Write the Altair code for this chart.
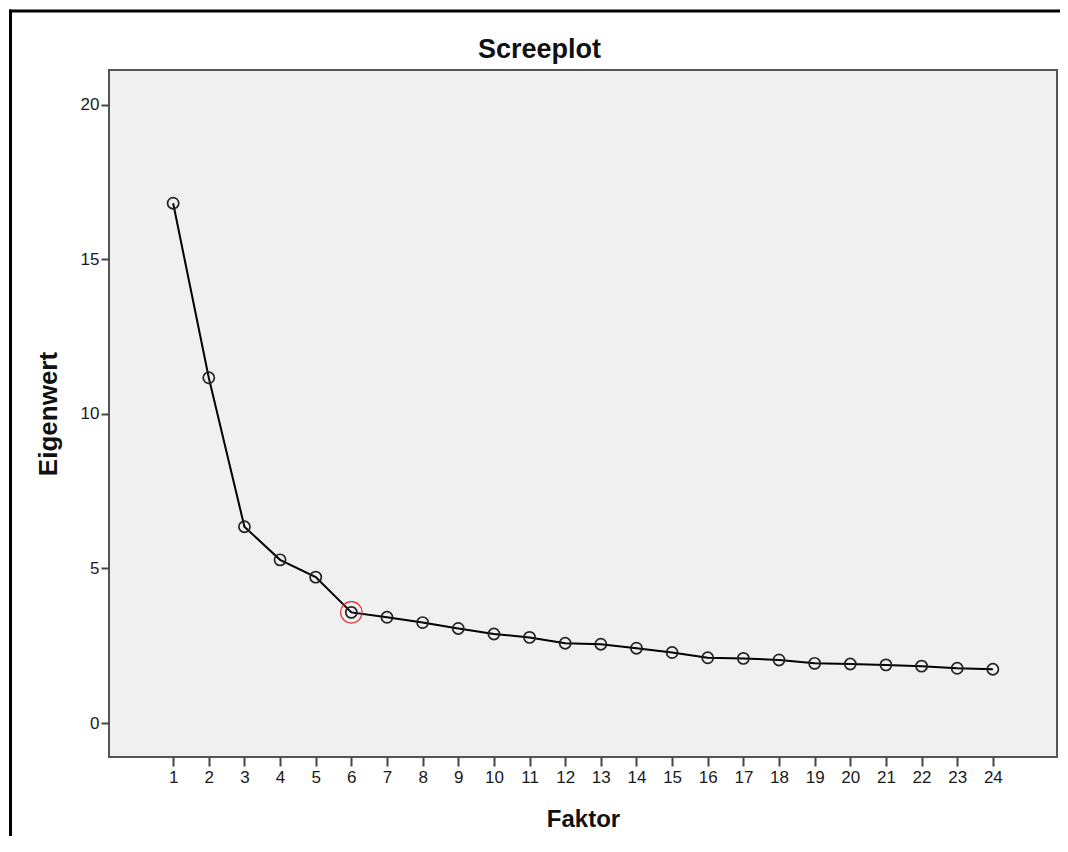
import altair as alt
import pandas as pd

factors = list(range(1, 25))
eigenvalues = [16.82, 11.17, 6.35, 5.28, 4.72, 3.58, 3.42, 3.25, 3.06, 2.88, 2.77, 2.58,
               2.55, 2.42, 2.28, 2.11, 2.09, 2.04, 1.93, 1.91, 1.88, 1.84, 1.77, 1.74]
y_ticks = [0, 5, 10, 15, 20]
highlight_factor = 6
chart_title = "Screeplot"

df = pd.DataFrame({"Faktor": factors, "Eigenwert": eigenvalues})
hl = df[df["Faktor"] == highlight_factor]

FONT = "Liberation Sans"

x = alt.X("Faktor:Q", title="Faktor",
          scale=alt.Scale(domain=[-0.8, 25.8], nice=False, zero=False),
          axis=alt.Axis(values=factors, format="d", labelFlush=False, labelOverlap=False,
                        titleFontSize=24))
y = alt.Y("Eigenwert:Q", title="Eigenwert",
          scale=alt.Scale(domain=[-1.1, 21.13], nice=False, zero=False),
          axis=alt.Axis(values=y_ticks, format="d", titleFontSize=26))

line = alt.Chart(df).mark_line(color="#000000", strokeWidth=2).encode(x=x, y=y)
pts = alt.Chart(df).mark_point(shape="circle", filled=False, size=125, stroke="#222222",
                               strokeWidth=1.7, opacity=1).encode(x=x, y=y)
red = alt.Chart(hl).mark_point(shape="circle", filled=False, size=460, stroke="#e8262a",
                               strokeWidth=1.1, opacity=1).encode(x=x, y=y)

frame_v = alt.Chart(df.head(1)).mark_rule(color="#000000", strokeWidth=3).encode(
    x=alt.value(-98.5), y=alt.value(-60.5), y2=alt.value(800))
frame_h = alt.Chart(df.head(1)).mark_rule(color="#000000", strokeWidth=3).encode(
    x=alt.value(-100), x2=alt.value(1000), y=alt.value(-59))

title_df = pd.DataFrame({"t": [chart_title]})
title_mark = alt.Chart(title_df).mark_text(
    font=FONT, fontSize=27, fontWeight="bold", color="#111111",
    align="center", baseline="alphabetic"
).encode(text="t:N", x=alt.value(430.5), y=alt.value(-12))

chart = alt.layer(line, pts, red, frame_v, frame_h, title_mark).properties(
    width=948, height=687,
    background="#ffffff",
    padding={"left": 101, "top": 62, "right": 3, "bottom": 79},
    autosize=alt.AutoSizeParams(type="none"),
).configure_view(
    fill="#f0f0f0", stroke="#555555", strokeWidth=2
).configure_axis(
    grid=False, domain=False, tickColor="#444444", tickWidth=2,
    labelFont=FONT, labelFontSize=17, labelColor="#1a1a1a",
    titleFont=FONT, titleFontWeight="bold", titleColor="#111111",
).configure_axisX(
    tickSize=9, labelPadding=3, titlePadding=22
).configure_axisY(
    tickSize=8, labelPadding=2, titlePadding=19
)

chart.save("out.html", embed_options={"renderer": "svg", "actions": False})
